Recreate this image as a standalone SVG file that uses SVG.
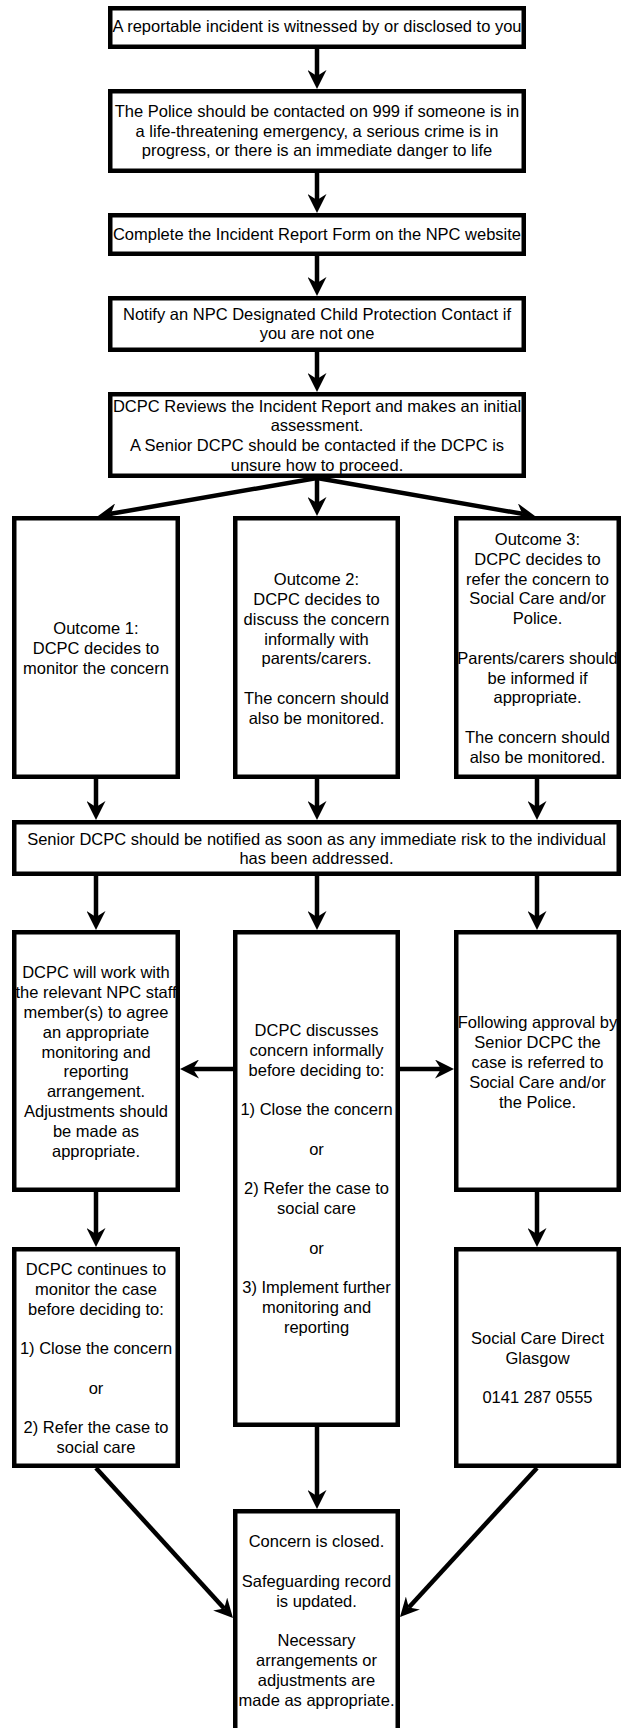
<svg xmlns="http://www.w3.org/2000/svg" width="621" height="1728" viewBox="0 0 621 1728">
<style>
.box{fill:#fff;stroke:#000;stroke-width:4.5}
.t{font-family:"Liberation Sans",Arial,sans-serif;font-size:16.5px;fill:#000;text-anchor:middle}
.e{fill:none;stroke:#000;stroke-width:4.5;marker-end:url(#ah)}
</style>
<defs>
<marker id="ah" markerUnits="userSpaceOnUse" markerWidth="19" markerHeight="19" viewBox="0 0 19 19" refX="6" refY="9.5" orient="auto"><path d="M0,0 L19,9.5 L0,19 L6,9.5 Z" fill="#000"/></marker>
</defs>
<rect width="621" height="1728" fill="#fff"/>
<g id="connectors">
<path class="e" d="M317 49 V76"/>
<path class="e" d="M317 173 V200"/>
<path class="e" d="M317 256 V283"/>
<path class="e" d="M317 352 V379"/>
<path class="e" d="M317 478 V503"/>
<path class="e" d="M317 478 L110.8 513.8"/>
<path class="e" d="M317 478 L522.2 513.8"/>
<path class="e" d="M96 779 V807"/>
<path class="e" d="M317 779 V807"/>
<path class="e" d="M537 779 V807"/>
<path class="e" d="M96 876 V917"/>
<path class="e" d="M317 876 V917"/>
<path class="e" d="M537 876 V917"/>
<path class="e" d="M233 1069 H193"/>
<path class="e" d="M400 1069 H441"/>
<path class="e" d="M96 1192 V1234"/>
<path class="e" d="M537 1192 V1234"/>
<path class="e" d="M317 1427 V1496"/>
<path class="e" d="M96 1468 L224.2 1608.4"/>
<path class="e" d="M537 1468 L408.8 1607.4"/>
</g>
<g id="n1"><rect class="box" x="110.25" y="8.25" width="413.5" height="38.5"/>
<text class="t" x="317" y="32">A reportable incident is witnessed by or disclosed to you</text></g>
<g id="n2"><rect class="box" x="110.25" y="91.25" width="413.5" height="79.5"/>
<text class="t"><tspan x="317" y="116.7">The Police should be contacted on 999 if someone is in</tspan><tspan x="317" y="136.5">a life-threatening emergency, a serious crime is in</tspan><tspan x="317" y="156.3">progress, or there is an immediate danger to life</tspan></text></g>
<g id="n3"><rect class="box" x="110.25" y="215.25" width="413.5" height="38.5"/>
<text class="t" x="317" y="240">Complete the Incident Report Form on the NPC website</text></g>
<g id="n4"><rect class="box" x="110.25" y="298.25" width="413.5" height="51.5"/>
<text class="t"><tspan x="317" y="319.6">Notify an NPC Designated Child Protection Contact if</tspan><tspan x="317" y="339.4">you are not one</tspan></text></g>
<g id="n5"><rect class="box" x="110.25" y="394.25" width="413.5" height="81.5"/>
<text class="t"><tspan x="317" y="411.5">DCPC Reviews the Incident Report and makes an initial</tspan><tspan x="317" y="431.3">assessment.</tspan><tspan x="317" y="451.1">A Senior DCPC should be contacted if the DCPC is</tspan><tspan x="317" y="470.9">unsure how to proceed.</tspan></text></g>
<g id="o1"><rect class="box" x="14.25" y="518.25" width="163.5" height="258.5"/>
<text class="t"><tspan x="96" y="634.2">Outcome 1:</tspan><tspan x="96" y="654">DCPC decides to</tspan><tspan x="96" y="673.8">monitor the concern</tspan></text></g>
<g id="o2"><rect class="box" x="235.25" y="518.25" width="162.5" height="258.5"/>
<text class="t"><tspan x="316.5" y="585.2">Outcome 2:</tspan><tspan x="316.5" y="605">DCPC decides to</tspan><tspan x="316.5" y="624.8">discuss the concern</tspan><tspan x="316.5" y="644.6">informally with</tspan><tspan x="316.5" y="664.4">parents/carers.</tspan><tspan x="316.5" y="704">The concern should</tspan><tspan x="316.5" y="723.8">also be monitored.</tspan></text></g>
<g id="o3"><rect class="box" x="456.25" y="518.25" width="162.5" height="258.5"/>
<text class="t"><tspan x="537.5" y="544.9">Outcome 3:</tspan><tspan x="537.5" y="564.7">DCPC decides to</tspan><tspan x="537.5" y="584.5">refer the concern to</tspan><tspan x="537.5" y="604.3">Social Care and/or</tspan><tspan x="537.5" y="624.1">Police.</tspan><tspan x="537.5" y="663.7">Parents/carers should</tspan><tspan x="537.5" y="683.5">be informed if</tspan><tspan x="537.5" y="703.3">appropriate.</tspan><tspan x="537.5" y="742.9">The concern should</tspan><tspan x="537.5" y="762.7">also be monitored.</tspan></text></g>
<g id="senior"><rect class="box" x="14.25" y="822.25" width="604.5" height="51.5"/>
<text class="t"><tspan x="316.5" y="844.5">Senior DCPC should be notified as soon as any immediate risk to the individual</tspan><tspan x="316.5" y="864.3">has been addressed.</tspan></text></g>
<g id="l1"><rect class="box" x="14.25" y="932.25" width="163.5" height="257.5"/>
<text class="t"><tspan x="96" y="978.4">DCPC will work with</tspan><tspan x="96" y="998.2">the relevant NPC staff</tspan><tspan x="96" y="1018">member(s) to agree</tspan><tspan x="96" y="1037.8">an appropriate</tspan><tspan x="96" y="1057.6">monitoring and</tspan><tspan x="96" y="1077.4">reporting</tspan><tspan x="96" y="1097.2">arrangement.</tspan><tspan x="96" y="1117">Adjustments should</tspan><tspan x="96" y="1136.8">be made as</tspan><tspan x="96" y="1156.6">appropriate.</tspan></text></g>
<g id="m3"><rect class="box" x="235.25" y="932.25" width="162.5" height="492.5"/>
<text class="t"><tspan x="316.5" y="1036">DCPC discusses</tspan><tspan x="316.5" y="1055.8">concern informally</tspan><tspan x="316.5" y="1075.6">before deciding to:</tspan><tspan x="316.5" y="1115.2">1) Close the concern</tspan><tspan x="316.5" y="1154.8">or</tspan><tspan x="316.5" y="1194.4">2) Refer the case to</tspan><tspan x="316.5" y="1214.2">social care</tspan><tspan x="316.5" y="1253.8">or</tspan><tspan x="316.5" y="1293.4">3) Implement further</tspan><tspan x="316.5" y="1313.2">monitoring and</tspan><tspan x="316.5" y="1333">reporting</tspan></text></g>
<g id="r3"><rect class="box" x="456.25" y="932.25" width="162.5" height="257.5"/>
<text class="t"><tspan x="537.5" y="1028.4">Following approval by</tspan><tspan x="537.5" y="1048.2">Senior DCPC the</tspan><tspan x="537.5" y="1068">case is referred to</tspan><tspan x="537.5" y="1087.8">Social Care and/or</tspan><tspan x="537.5" y="1107.6">the Police.</tspan></text></g>
<g id="l2"><rect class="box" x="14.25" y="1249.25" width="163.5" height="216.5"/>
<text class="t"><tspan x="96" y="1275">DCPC continues to</tspan><tspan x="96" y="1294.8">monitor the case</tspan><tspan x="96" y="1314.6">before deciding to:</tspan><tspan x="96" y="1354.2">1) Close the concern</tspan><tspan x="96" y="1393.8">or</tspan><tspan x="96" y="1433.4">2) Refer the case to</tspan><tspan x="96" y="1453.2">social care</tspan></text></g>
<g id="r4"><rect class="box" x="456.25" y="1249.25" width="162.5" height="216.5"/>
<text class="t"><tspan x="537.5" y="1343.8">Social Care Direct</tspan><tspan x="537.5" y="1363.6">Glasgow</tspan><tspan x="537.5" y="1403.2">0141 287 0555</tspan></text></g>
<g id="closed"><rect class="box" x="235.25" y="1511.25" width="162.5" height="240"/>
<text class="t"><tspan x="316.5" y="1547.2">Concern is closed.</tspan><tspan x="316.5" y="1586.8">Safeguarding record</tspan><tspan x="316.5" y="1606.6">is updated.</tspan><tspan x="316.5" y="1646.2">Necessary</tspan><tspan x="316.5" y="1666">arrangements or</tspan><tspan x="316.5" y="1685.8">adjustments are</tspan><tspan x="316.5" y="1705.6">made as appropriate.</tspan></text></g>
</svg>
